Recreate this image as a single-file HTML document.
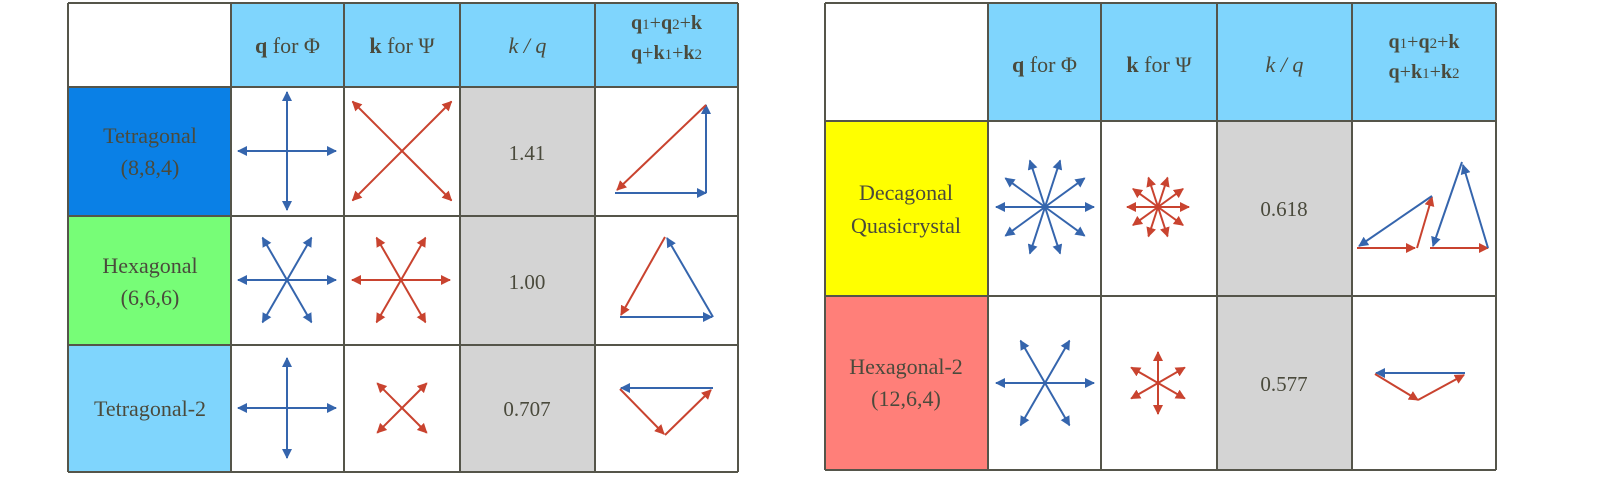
<!DOCTYPE html>
<html><head><meta charset="utf-8"><style>
body{margin:0;background:#fff;width:1600px;height:484px;overflow:hidden}
svg{position:absolute;left:0;top:0}
text{font-family:"Liberation Serif",serif;fill:#4a4a3c}
</style></head><body>
<svg id="s" width="1600" height="484">
<defs>
<marker id="mb" viewBox="0 0 10 10" refX="9" refY="5" markerWidth="5" markerHeight="5" orient="auto"><path d="M0,0L10,5L0,10z" fill="#3565ad"/></marker>
<marker id="mr" viewBox="0 0 10 10" refX="9" refY="5" markerWidth="5" markerHeight="5" orient="auto"><path d="M0,0L10,5L0,10z" fill="#c9432f"/></marker>
</defs>
</svg>
<script>
const S=document.getElementById('s');const NS='http://www.w3.org/2000/svg';
function el(t,a,txt){const e=document.createElementNS(NS,t);for(const k in a)e.setAttribute(k,a[k]);if(txt!=null)e.innerHTML=txt;S.appendChild(e);return e;}
const B='#3565ad',R='#c9432f';
function arr(x1,y1,x2,y2,c){const e=el('line',{x1,y1,x2,y2,stroke:c==='b'?B:R,'stroke-width':2,'marker-end':c==='b'?'url(#mb)':'url(#mr)'});

}
function star(cx,cy,n,rx,ry,off,c){for(let i=0;i<n;i++){const a=off+i*2*Math.PI/n;arr(cx,cy,cx+rx*Math.cos(a),cy-ry*Math.sin(a),c);}}
function rect(x,y,w,h,f){el('rect',{x,y,width:w,height:h,fill:f});}
function table(xs,ys,fills,name){
 const g=el('g',{});
 for(let r=0;r<ys.length-1;r++)for(let c=0;c<xs.length-1;c++){const f=fills[r][c];if(f)rect(xs[c],ys[r],xs[c+1]-xs[c],ys[r+1]-ys[r],f);}
 for(const x of xs)el('line',{x1:x,y1:ys[0],x2:x,y2:ys[ys.length-1],stroke:'#55554a','stroke-width':2});
 for(const y of ys)el('line',{x1:xs[0],y1:y,x2:xs[xs.length-1],y2:y,stroke:'#55554a','stroke-width':2});
}
function T(x,y,s,size,name,extra){const e=el('text',Object.assign({x,y,'text-anchor':'middle','font-size':size||22},extra||{}),s);

return e;}
function headers(xs,y1,y2){
 const m=i=>(xs[i]+xs[i+1])/2;
 T(m(1),y1,'<tspan font-weight="bold">q</tspan> for Φ',22,'header-q-phi');
 T(m(2),y1,'<tspan font-weight="bold">k</tspan> for Ψ',22,'header-k-psi');
 T(m(3),y1,'<tspan font-style="italic">k / q</tspan>',22,'header-k-over-q');
 T(m(4),y2-16,'<tspan font-weight="bold">q</tspan><tspan font-size="15">1</tspan>+<tspan font-weight="bold">q</tspan><tspan font-size="15">2</tspan>+<tspan font-weight="bold">k</tspan>',20,'header-sum-1',{'font-weight':'normal'});
 T(m(4),y2+14,'<tspan font-weight="bold">q</tspan>+<tspan font-weight="bold">k</tspan><tspan font-size="15">1</tspan>+<tspan font-weight="bold">k</tspan><tspan font-size="15">2</tspan>',20,'header-sum-2');
}
const C='#7fd5fd',G='#d4d4d4';
// left table
const lx=[68,231,344,460,595,738],ly=[3,87,216,345,472];
table(lx,ly,[[null,C,C,C,C],['#0a80e6',null,null,G,null],['#77fd77',null,null,G,null],[C,null,null,G,null]]);
headers(lx,53,45);
T(150,143,'Tetragonal',22,'row-tetragonal');T(150,175,'(8,8,4)',22,'row-tetragonal-sub');
T(150,273,'Hexagonal',22,'row-hexagonal');T(150,305,'(6,6,6)',22,'row-hexagonal-sub');
T(150,416,'Tetragonal-2',22,'row-tetragonal-2');
T(527,160,'1.41',21,'ratio-1');T(527,289,'1.00',21,'ratio-2');T(527,416,'0.707',21,'ratio-3');
star(287,151,4,49,59,0,'b');star(402,151,4,70,70,Math.PI/4,'r');
star(287,280,6,49,49,0,'b');star(401,280,6,49,49,0,'r');
star(287,408,4,49,50,0,'b');star(402,408,4,35,35,Math.PI/4,'r');
arr(615,193,706,193,'b');arr(706,193,706,105,'b');arr(706,105,617,190,'r');
arr(620,317,712,317,'b');arr(713,317,667,238,'b');arr(665,237,621,315,'r');
arr(713,388,621,388,'b');arr(620,389,664,434,'r');arr(665,435,711,390,'r');
// right table
const rx=[825,988,1101,1217,1352,1496],ry=[3,121,296,470];
table(rx,ry,[[null,C,C,C,C],['#ffff00',null,null,G,null],['#ff7f79',null,null,G,null]]);
headers(rx,72,64);
T(906,200,'Decagonal',22,'row-decagonal');T(906,233,'Quasicrystal',22,'row-decagonal-sub');
T(906,374,'Hexagonal-2',22,'row-hexagonal-2');T(906,406,'(12,6,4)',22,'row-hexagonal-2-sub');
T(1284,216,'0.618',21,'ratio-4');T(1284,391,'0.577',21,'ratio-5');
star(1045,207,10,49,49,0,'b');star(1158,207,10,31,31,0,'r');
star(1045,383,6,49,49,0,'b');star(1158,383,6,31,31,Math.PI/2,'r');
arr(1357,248,1415,248,'r');arr(1417,248,1432,197,'r');arr(1432,196,1359,246,'b');
arr(1430,248,1488,248,'r');arr(1488,248,1463,165,'b');arr(1462,162,1433,246,'b');
arr(1465,373,1376,373,'b');arr(1375,374,1418,400,'r');arr(1418,400,1464,375,'r');
</script>
</body></html>
